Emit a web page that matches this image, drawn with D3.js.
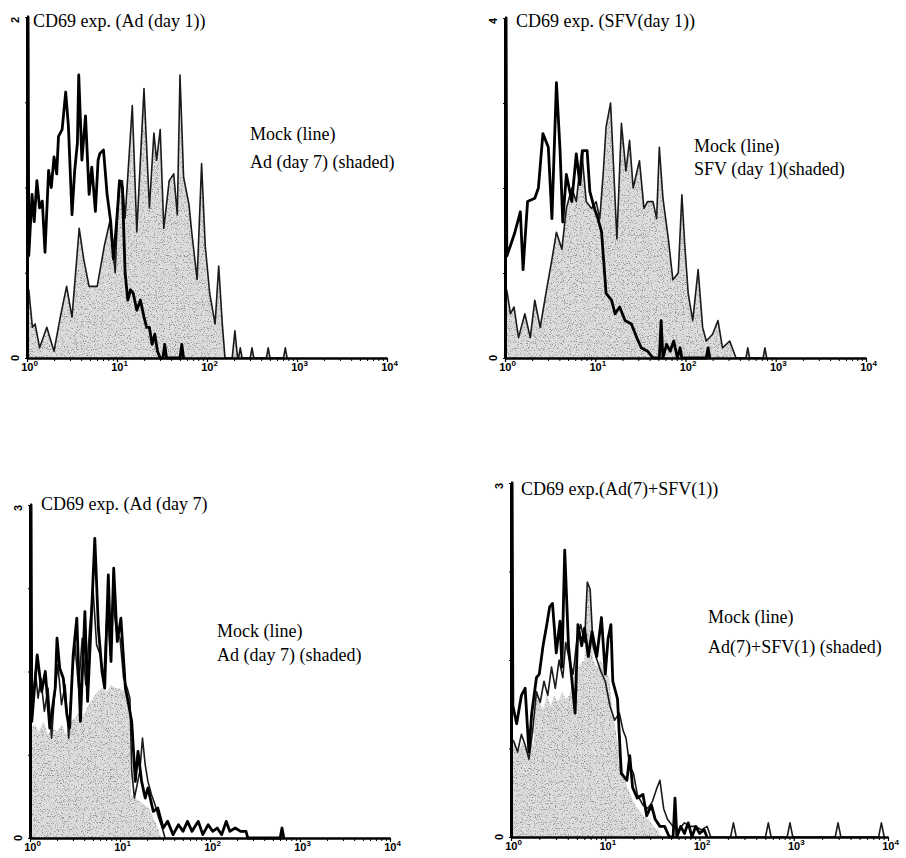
<!DOCTYPE html>
<html>
<head>
<meta charset="utf-8">
<script src="https://cdn.jsdelivr.net/npm/d3@7"></script>
<style>
  html, body { margin: 0; padding: 0; background: #fff; }
  svg { display: block; }
</style>
</head>
<body>
<script>
// ---------------- DATA ----------------
// x values are decade exponents of fluorescence intensity (10^e), y values are % of axis height
const xTickValues = [1, 10, 100, 1000, 10000];
const xTickExps = ["0", "1", "2", "3", "4"];
const yTickLabels = [["0", "2"], ["0", "4"], ["0", "3"], ["0", "3"]];
const titles = ["CD69 exp. (Ad (day 1))", "CD69 exp. (SFV(day 1))", "CD69 exp. (Ad (day 7)", "CD69 exp.(Ad(7)+SFV(1))"];
const legendLine = ["Mock (line)", "Mock (line)", "Mock (line)", "Mock (line)"];
const legendShaded = ["Ad (day 7) (shaded)", "SFV (day 1)(shaded)", "Ad (day 7) (shaded)", "Ad(7)+SFV(1) (shaded)"];

const p1Mock = [[0,100],[0.012,100],[0.02,30],[0.056,48],[0.08,40],[0.11,52],[0.14,44],[0.17,46],[0.20,31],[0.24,55],[0.27,50],[0.30,59],[0.33,54],[0.35,65],[0.39,67],[0.43,78],[0.46,68],[0.50,42],[0.53,55],[0.56,63],[0.575,83],[0.61,58],[0.65,71],[0.69,48],[0.72,56],[0.76,43],[0.79,58],[0.81,60],[0.85,61],[0.89,48],[0.93,40],[0.96,29],[0.99,38],[1.03,52],[1.06,50],[1.09,25],[1.12,17],[1.15,20],[1.18,19],[1.22,14],[1.26,17],[1.30,12],[1.33,9],[1.36,9],[1.39,4],[1.42,7],[1.45,2],[1.48,0],[1.51,0],[1.53,4],[1.55,0],[1.70,0],[1.72,4],[1.74,0]];
const p1Shaded = [[0,20],[0.02,20],[0.06,9],[0.09,10],[0.14,3],[0.22,9],[0.30,2],[0.37,12],[0.44,21],[0.50,12],[0.58,38],[0.63,29],[0.69,21],[0.78,21],[0.86,33],[0.92,40],[0.98,25],[1.02,52],[1.06,52],[1.09,41],[1.17,74],[1.22,37],[1.30,79],[1.36,44],[1.41,66],[1.44,58],[1.48,67],[1.52,38],[1.58,52],[1.63,54],[1.67,42],[1.70,83],[1.74,53],[1.80,45],[1.83,37],[1.89,23],[1.94,57],[1.98,33],[2.03,19],[2.09,10],[2.13,27],[2.17,10],[2.20,0],[2.28,0],[2.31,8],[2.34,0],[2.35,0],[2.37,3],[2.39,0],[2.48,0],[2.50,3],[2.52,0],[2.66,0],[2.68,3],[2.70,0],[2.85,0],[2.87,3],[2.89,0]];

const p2Mock = [[0,100],[0.012,100],[0.02,30],[0.06,33],[0.11,37],[0.17,43],[0.20,26],[0.25,46],[0.33,47],[0.37,50],[0.42,66],[0.48,62],[0.52,41],[0.57,81],[0.61,61],[0.64,40],[0.68,54],[0.74,46],[0.79,60],[0.83,51],[0.86,61],[0.91,61],[0.94,49],[0.99,44],[1.03,41],[1.07,37],[1.12,19],[1.18,17],[1.22,13],[1.27,15],[1.33,11],[1.40,10],[1.46,6],[1.51,3],[1.58,2],[1.64,0],[1.71,0],[1.73,11],[1.75,0],[1.79,4],[1.83,2],[1.87,5],[1.91,0],[1.94,3],[1.96,0],[2.23,0],[2.25,3],[2.27,0]];
const p2Shaded = [[0,20],[0.02,20],[0.06,13],[0.10,15],[0.15,6],[0.22,13],[0.28,6],[0.33,17],[0.39,9],[0.46,20],[0.52,29],[0.57,37],[0.63,32],[0.68,44],[0.74,50],[0.79,46],[0.85,61],[0.90,46],[0.96,44],[1.01,46],[1.05,41],[1.09,55],[1.12,68],[1.17,75],[1.24,35],[1.29,69],[1.34,55],[1.38,64],[1.42,50],[1.49,58],[1.54,44],[1.58,46],[1.64,46],[1.68,41],[1.71,62],[1.75,47],[1.81,35],[1.86,23],[1.92,25],[1.96,48],[1.99,34],[2.03,19],[2.08,11],[2.14,26],[2.19,9],[2.23,5],[2.30,7],[2.36,11],[2.41,3],[2.49,5],[2.56,0],[2.67,0],[2.69,3],[2.71,0],[2.86,0],[2.88,3],[2.90,0]];

const p3Mock = [[0,100],[0.012,100],[0.02,35],[0.05,45],[0.08,55],[0.13,44],[0.17,50],[0.22,33],[0.28,45],[0.30,60],[0.33,51],[0.37,48],[0.41,37],[0.44,33],[0.48,55],[0.52,66],[0.56,35],[0.61,68],[0.64,41],[0.68,65],[0.72,90],[0.76,63],[0.80,50],[0.83,45],[0.87,79],[0.90,53],[0.93,81],[0.97,59],[1.01,66],[1.06,45],[1.09,41],[1.13,35],[1.17,17],[1.20,26],[1.24,17],[1.28,12],[1.31,15],[1.37,8],[1.42,9],[1.48,3],[1.53,5],[1.59,1],[1.65,4],[1.70,2],[1.75,5],[1.80,2],[1.87,5],[1.92,1],[1.98,4],[2.03,2],[2.08,3],[2.13,1],[2.18,5],[2.22,2],[2.28,3],[2.34,2],[2.40,2],[2.42,0],[2.78,0],[2.80,3],[2.82,0]];
const p3Shaded = [[0,33],[0.05,34],[0.10,32],[0.15,35],[0.20,31],[0.25,33],[0.30,32],[0.35,34],[0.40,31],[0.45,35],[0.50,36],[0.55,38],[0.60,37],[0.65,40],[0.70,42],[0.75,44],[0.80,45],[0.85,44],[0.90,46],[0.95,45],[1.00,45],[1.05,44],[1.10,44],[1.12,13],[1.17,12],[1.22,11],[1.27,10],[1.32,9],[1.37,6],[1.42,3],[1.46,0]];
const p3Outline = [[0,32],[0.03,40],[0.06,50],[0.09,42],[0.12,48],[0.16,38],[0.20,45],[0.24,30],[0.27,42],[0.31,52],[0.35,40],[0.39,46],[0.43,30],[0.47,50],[0.50,58],[0.54,45],[0.58,60],[0.62,46],[0.66,62],[0.70,75],[0.74,58],[0.78,55],[0.82,48],[0.86,70],[0.89,55],[0.92,72],[0.96,62],[1.00,60],[1.04,48],[1.08,45],[1.11,42],[1.13,20],[1.16,12],[1.19,16],[1.22,20],[1.25,30],[1.28,22],[1.31,17],[1.35,13],[1.39,10],[1.43,6],[1.47,3],[1.50,0]];

const p4Mock = [[0,100],[0.012,100],[0.02,37],[0.06,32],[0.11,40],[0.15,42],[0.19,24],[0.22,35],[0.27,45],[0.30,46],[0.34,54],[0.38,60],[0.41,65],[0.44,66],[0.48,52],[0.52,61],[0.54,48],[0.57,81],[0.61,54],[0.64,46],[0.68,35],[0.71,60],[0.75,54],[0.78,59],[0.82,51],[0.86,58],[0.91,51],[0.96,62],[1.00,46],[1.03,56],[1.06,60],[1.08,44],[1.13,39],[1.17,18],[1.23,16],[1.26,23],[1.29,14],[1.34,11],[1.40,12],[1.44,6],[1.49,9],[1.53,5],[1.58,3],[1.63,3],[1.68,0],[1.72,0],[1.74,11],[1.76,0],[1.80,3],[1.84,1],[1.88,4],[1.92,0],[1.96,3],[2.00,1],[2.05,2],[2.08,0]];
const p4Shaded = [[0,26],[0.04,27],[0.08,24],[0.12,27],[0.16,25],[0.20,27],[0.24,26],[0.27,42],[0.30,38],[0.34,36],[0.38,40],[0.42,37],[0.46,40],[0.50,38],[0.54,41],[0.58,39],[0.62,40],[0.66,45],[0.70,48],[0.74,49],[0.78,50],[0.81,72],[0.84,70],[0.87,50],[0.91,48],[0.95,50],[1.00,47],[1.04,45],[1.07,37],[1.11,30],[1.14,25],[1.18,20],[1.21,16],[1.25,13],[1.28,11],[1.32,9],[1.35,8],[1.40,6],[1.46,5],[1.51,3],[1.56,2],[1.60,0]];
const p4Outline = [[0,28],[0.03,27],[0.07,24],[0.11,29],[0.15,26],[0.19,22],[0.23,30],[0.27,41],[0.31,38],[0.35,44],[0.39,40],[0.43,48],[0.47,42],[0.51,50],[0.55,45],[0.58,55],[0.62,50],[0.66,46],[0.70,56],[0.74,60],[0.78,55],[0.81,72],[0.84,70],[0.87,54],[0.90,51],[0.95,47],[1.00,44],[1.05,37],[1.10,33],[1.15,35],[1.19,30],[1.22,28],[1.26,20],[1.30,18],[1.34,12],[1.40,9],[1.45,8],[1.50,10],[1.55,14],[1.58,16],[1.62,8],[1.66,5],[1.72,3],[1.78,2],[1.84,4],[1.90,3],[1.96,3],[2.02,2],[2.08,3],[2.12,0],[2.33,0],[2.36,4],[2.39,0],[2.70,0],[2.73,4],[2.76,0],[2.93,0],[2.96,4],[2.99,0],[3.44,0],[3.47,4],[3.50,0],[3.90,0],[3.93,4],[3.96,0]];

const mockSeries = [p1Mock, p2Mock, p3Mock, p4Mock];
const shadedSeries = [p1Shaded, p2Shaded, p3Shaded, p4Shaded];
const outlineSeries = [p1Shaded, p2Shaded, p3Outline, p4Outline];

// ---------------- LAYOUT ----------------
const W = 906, H = 858;
const panels = [
  { x0: 27,  x1: 387, yb: 358, yt: 17,  tx: 33,  ty: 27,  lx: 250, ly1: 140, ly2: 168 },
  { x0: 505, x1: 866, yb: 358, yt: 18,  tx: 516, ty: 27,  lx: 694, ly1: 152, ly2: 175 },
  { x0: 30,  x1: 390, yb: 838, yt: 505, tx: 41,  ty: 510, lx: 217, ly1: 637, ly2: 661 },
  { x0: 511, x1: 888, yb: 837, yt: 483, tx: 521, ty: 495, lx: 708, ly1: 623, ly2: 653 }
];

const svg = d3.select("body").append("svg").attr("width", W).attr("height", H);
svg.append("rect").attr("width", W).attr("height", H).attr("fill", "#fff");

const defs = svg.append("defs");
const f = defs.append("filter").attr("id", "stip").attr("x", "0").attr("y", "0").attr("width", "1").attr("height", "1");
f.append("feTurbulence").attr("type", "fractalNoise").attr("baseFrequency", "0.85").attr("numOctaves", "2").attr("seed", "7").attr("result", "n");
f.append("feColorMatrix").attr("in", "n").attr("type", "matrix")
  .attr("values", "0 0 0 0 0.3  0 0 0 0 0.3  0 0 0 0 0.3  -6 0 0 0 2.75").attr("result", "d");
f.append("feComposite").attr("in", "d").attr("in2", "SourceGraphic").attr("operator", "in").attr("result", "c");
const fm = f.append("feMerge");
fm.append("feMergeNode").attr("in", "SourceGraphic");
fm.append("feMergeNode").attr("in", "c");

const serif = "'Liberation Serif', 'Times New Roman', serif";
const sans = "'Liberation Sans', Arial, sans-serif";

panels.forEach((p, i) => {
  const x = d3.scaleLog().domain([1, 10000]).range([p.x0, p.x1]);
  const y = d3.scaleLinear().domain([0, 100]).range([p.yb, p.yt]);
  const g = svg.append("g");

  const area = d3.area().x(d => x(10 ** d[0])).y0(y(0)).y1(d => y(d[1]));
  const line = d3.line().x(d => x(10 ** d[0])).y(d => y(d[1]));

  g.append("path").datum(shadedSeries[i]).attr("d", area)
    .attr("fill", "#dddddd").attr("filter", "url(#stip)");
  g.append("path").datum(outlineSeries[i]).attr("d", line)
    .attr("fill", "none").attr("stroke", "#1a1a1a").attr("stroke-width", 1.6).attr("stroke-linejoin", "round");
  g.append("path").datum(mockSeries[i]).attr("d", line)
    .attr("fill", "none").attr("stroke", "#000").attr("stroke-width", 2.8).attr("stroke-linejoin", "round");

  // minor x ticks
  const minor = [];
  for (let dec = 1; dec < 10000; dec *= 10) for (let k = 2; k <= 9; k++) minor.push(dec * k);
  const xMinor = g.append("g").attr("transform", `translate(0,${p.yb})`)
    .call(d3.axisBottom(x).tickValues(minor).tickSize(3).tickSizeOuter(0).tickFormat(() => ""));
  xMinor.select(".domain").remove();
  xMinor.selectAll(".tick line").attr("stroke", "#000").attr("stroke-width", 1);

  const xAx = g.append("g").attr("transform", `translate(0,${p.yb})`)
    .call(d3.axisBottom(x).tickValues(xTickValues).tickSize(4).tickSizeOuter(0).tickFormat(() => ""));
  xAx.select(".domain").attr("stroke", "#000").attr("stroke-width", 2.6);
  xAx.selectAll(".tick line").attr("stroke", "#000").attr("stroke-width", 1.2);
  xAx.selectAll(".tick").each(function (d, j) {
    const t = d3.select(this).append("text")
      .attr("x", 2).attr("y", 13).attr("text-anchor", "middle").attr("fill", "#000")
      .style("font-family", sans).style("font-weight", "bold").style("font-size", "11px");
    t.append("tspan").text("10");
    t.append("tspan").attr("dy", -5).style("font-size", "8px").text(xTickExps[j]);
  });

  const yAx = g.append("g").attr("transform", `translate(${p.x0},0)`)
    .call(d3.axisLeft(y).tickValues([0, 25, 50, 75, 100]).tickSize(2).tickSizeOuter(0).tickFormat(() => ""));
  yAx.select(".domain").attr("stroke", "#000").attr("stroke-width", 3);
  yAx.selectAll(".tick line").attr("stroke", "#000").attr("stroke-width", 1);
  [0, 100].forEach((v, j) => {
    g.append("text")
      .attr("transform", `translate(${p.x0 - 12},${y(v) + (j === 0 ? 0 : 3)}) rotate(-90)`)
      .attr("text-anchor", "middle").attr("dominant-baseline", "central")
      .style("font-family", sans).style("font-weight", "bold").style("font-size", "11px")
      .text(yTickLabels[i][j]);
  });

  g.append("text").attr("x", p.tx).attr("y", p.ty)
    .style("font-family", serif).style("font-size", "18px").text(titles[i]);
  g.append("text").attr("x", p.lx).attr("y", p.ly1)
    .style("font-family", serif).style("font-size", "18px").text(legendLine[i]);
  g.append("text").attr("x", p.lx).attr("y", p.ly2)
    .style("font-family", serif).style("font-size", "18px").text(legendShaded[i]);
});
</script>
</body>
</html>
